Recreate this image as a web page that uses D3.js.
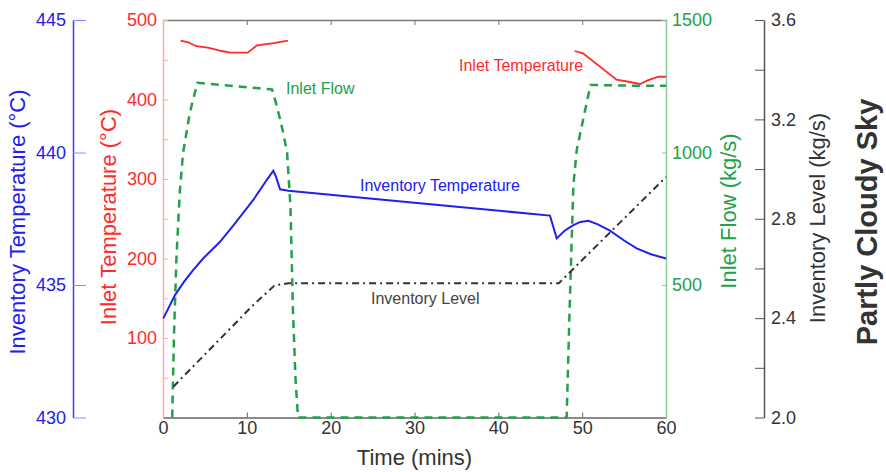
<!DOCTYPE html>
<html>
<head>
<meta charset="utf-8">
<title>Partly Cloudy Sky</title>
<script src="https://d3js.org/d3.v7.min.js"></script>
<style>
  body { margin: 0; padding: 0; background: #fff; font-family: "Liberation Sans", Arial, sans-serif; }
  .axis text { font-family: "Liberation Sans", Arial, sans-serif; font-size: 18px; }
</style>
</head>
<body>
<div id="chart"></div>
<script>
// time in minutes
var inletTempA = [[2.1, 474], [3.0, 472], [4.0, 467], [5.5, 465], [7.0, 461], [8.0, 459], [10.1, 459], [11.2, 468], [13.2, 471], [14.9, 474]];
var inletTempB = [[49.1, 461], [50.1, 458], [54.1, 425], [55.7, 422], [56.9, 419.5], [57.8, 424], [59.1, 428.6], [60, 428.6]];
var inletFlow = [[1.1, 0], [1.3, 300], [1.6, 600], [2.0, 850], [2.4, 1000], [3.2, 1150], [4.1, 1263], [13.0, 1238], [13.6, 1173],
                 [14.3, 1080], [14.8, 1000], [15.2, 800], [15.5, 406], [15.8, 150], [16.1, 0], [48.15, 0], [48.5, 406],
                 [48.95, 877], [49.35, 1009], [50.1, 1122], [51.0, 1255], [56, 1252], [60, 1252]];
var invTemp = [[0.04, 433.74], [1.43, 434.62], [2.5, 435.12], [3.62, 435.57], [4.81, 436.01], [6.8, 436.63], [8.59, 437.33],
               [10.77, 438.21], [12.37, 438.96], [13.16, 439.31], [13.48, 439.09], [13.96, 438.61], [14.95, 438.56],
               [30, 438.1], [46.16, 437.62], [46.96, 436.76], [47.9, 437.05], [48.95, 437.26], [49.8, 437.38], [50.74, 437.42],
               [51.8, 437.3], [53.32, 437.05], [55.0, 436.68], [56.5, 436.38], [58.2, 436.16], [60, 436.0]];
var invLevel = [[1.23, 2.124], [10.77, 2.453], [13.36, 2.533], [14.95, 2.54], [47.2, 2.54], [49.74, 2.625], [60, 2.968]];

var timeTicks = [0, 10, 20, 30, 40, 50, 60];
var inletTempTicks = [100, 200, 300, 400, 500];
var invTempTicks = [430, 435, 440, 445];
var flowTicks = [500, 1000, 1500];
var levelTicks = [2.0, 2.4, 2.8, 3.2, 3.6];

var width = 886, height = 472;
var plotL = 163, plotR = 666, plotT = 20, plotB = 417.5;

var svg = d3.select("#chart").append("svg")
    .attr("width", width)
    .attr("height", height);

var x = d3.scaleLinear().domain([0, 60]).range([plotL, plotR]);
var yInlet = d3.scaleLinear().domain([0, 500]).range([plotB, plotT]);
var yInv = d3.scaleLinear().domain([430, 445]).range([plotB, plotT]);
var yFlow = d3.scaleLinear().domain([0, 1500]).range([plotB, plotT]);
var yLevel = d3.scaleLinear().domain([2.0, 3.6]).range([plotB, plotT]);

var red = "#ff2a2a", blue = "#2020f0", green = "#22a04a", dark = "#333";

function style(g, lineColor, textColor) {
    g.selectAll("path.domain").attr("stroke", lineColor).attr("stroke-width", 1.5);
    g.selectAll(".tick line").attr("stroke", lineColor);
    g.selectAll("text").attr("fill", textColor);
}

// bottom / top time axis
var xb = svg.append("g").attr("class", "axis")
    .attr("transform", "translate(0," + plotB + ")")
    .call(d3.axisBottom(x).tickValues(timeTicks).tickSizeInner(-5).tickSizeOuter(0));
style(xb, "#666", dark);
xb.selectAll("text").attr("y", 4);
var xt = svg.append("g").attr("class", "axis")
    .attr("transform", "translate(0," + plotT + ")")
    .call(d3.axisTop(x).tickValues(timeTicks).tickSizeInner(-5).tickSizeOuter(0).tickFormat(""));
style(xt, "#777", dark);

// inlet temperature axis (red)
var ri = svg.append("g").attr("class", "axis")
    .attr("transform", "translate(" + plotL + ",0)")
    .call(d3.axisLeft(yInlet).tickValues(d3.range(50, 501, 50)).tickSizeInner(-5).tickSizeOuter(0)
        .tickFormat(function (d) { return inletTempTicks.indexOf(d) >= 0 ? d : ""; }));
style(ri, "#ffaaaa", red);
ri.selectAll("text").attr("x", -6);

// inventory temperature axis (blue)
var bi = svg.append("g").attr("class", "axis")
    .attr("transform", "translate(73,0)")
    .call(d3.axisLeft(yInv).tickValues(invTempTicks).tickSizeInner(-13).tickSizeOuter(0));
style(bi, "#3a3aff", blue);
bi.selectAll(".tick line").attr("stroke", "#8888ff");
bi.selectAll("text").attr("x", -7);

// inlet flow axis (green)
var gi = svg.append("g").attr("class", "axis")
    .attr("transform", "translate(" + plotR + ",0)")
    .call(d3.axisRight(yFlow).tickValues(flowTicks).tickSizeInner(-4).tickSizeOuter(0).tickFormat(d3.format("d")));
style(gi, "#8cc79c", green);
gi.selectAll("text").attr("x", 6);

// inventory level axis (black)
var ki = svg.append("g").attr("class", "axis")
    .attr("transform", "translate(764,0)")
    .call(d3.axisRight(yLevel).tickValues(d3.range(0, 9).map(function (i) { return 2.0 + i * 0.2; }))
        .tickSizeInner(-9).tickSizeOuter(0)
        .tickFormat(function (d) { return Math.round(d * 10) % 4 === 0 ? d3.format(".1f")(d) : ""; }));
style(ki, "#555", dark);
ki.selectAll("text").attr("x", 7);

// lines
var lineInlet = d3.line().x(function (d) { return x(d[0]); }).y(function (d) { return yInlet(d[1]); });
var lineFlow = d3.line().x(function (d) { return x(d[0]); }).y(function (d) { return yFlow(d[1]); });
var lineInv = d3.line().x(function (d) { return x(d[0]); }).y(function (d) { return yInv(d[1]); });
var lineLevel = d3.line().x(function (d) { return x(d[0]); }).y(function (d) { return yLevel(d[1]); });

[inletTempA, inletTempB].forEach(function (seg) {
    svg.append("path").attr("d", lineInlet(seg)).attr("fill", "none")
        .attr("stroke", red).attr("stroke-width", 1.8);
});
svg.append("path").attr("d", lineFlow(inletFlow))
    .attr("fill", "none").attr("stroke", green).attr("stroke-width", 2.5).attr("stroke-dasharray", "8,6");
svg.append("path").attr("d", lineLevel(invLevel)).attr("fill", "none")
    .attr("stroke", "#333").attr("stroke-width", 2).attr("stroke-dasharray", "7,4,2,4");
svg.append("path").attr("d", lineInv(invTemp)).attr("fill", "none")
    .attr("stroke", blue).attr("stroke-width", 2);

// annotations
function note(tx, ty, txt, color) {
    svg.append("text").attr("x", tx).attr("y", ty).attr("dy", "0.35em")
        .attr("font-size", 16).attr("fill", color).text(txt);
}
note(459, 65, "Inlet Temperature", red);
note(286, 88, "Inlet Flow", green);
note(360, 185, "Inventory Temperature", blue);
note(371, 298, "Inventory Level", "#444");

// axis titles
function vtitle(cx, cy, txt, color, size, weight) {
    svg.append("text").attr("transform", "translate(" + cx + "," + cy + ") rotate(-90)")
        .attr("text-anchor", "middle").attr("dy", "0.35em")
        .attr("font-size", size).attr("font-weight", weight || "normal")
        .attr("fill", color).text(txt);
}
vtitle(17, 222, "Inventory Temperature (\u00B0C)", blue, 22);
vtitle(108, 217, "Inlet Temperature (\u00B0C)", red, 22);
vtitle(728, 211, "Inlet Flow (kg/s)", green, 22);
vtitle(817, 218, "Inventory Level (kg/s)", dark, 22);
vtitle(867, 222, "Partly Cloudy Sky", dark, 29, "bold");

svg.append("text").attr("x", (plotL + plotR) / 2).attr("y", 457).attr("dy", "0.35em")
    .attr("text-anchor", "middle").attr("font-size", 22).attr("fill", dark).text("Time (mins)");
</script>
</body>
</html>
